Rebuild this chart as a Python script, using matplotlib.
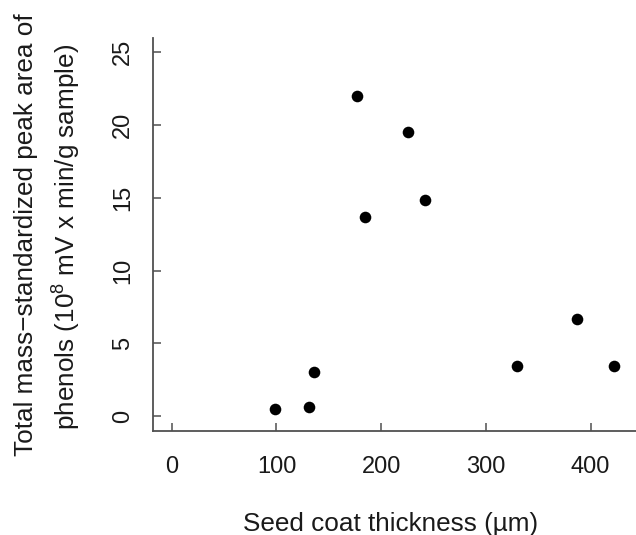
import matplotlib
matplotlib.use("Agg")
import matplotlib.pyplot as plt

plt.rcParams['font.family'] = ['Liberation Sans', 'DejaVu Sans']
plt.rcParams['mathtext.fontset'] = 'custom'
plt.rcParams['mathtext.rm'] = 'Liberation Sans'
plt.rcParams['mathtext.it'] = 'Liberation Sans:italic'

# Data
thickness = [98.6, 130.8, 136.1, 177.2, 184.2, 225.3, 241.8, 329.9, 387.2, 422.2]
peak_area = [0.46, 0.60, 3.02, 22.0, 13.7, 19.5, 14.85, 3.44, 6.65, 3.44]
x_ticks = [0, 100, 200, 300, 400]
y_ticks = [0, 5, 10, 15, 20, 25]

W, H = 636, 535
fig = plt.figure(figsize=(W / 100, H / 100), dpi=100)
# axes in pixel coordinates (extends beyond right edge, as in cropped reference)
left, right = 153.3, 651.0
top, bottom = 37.7, 430.6
ax = fig.add_axes([left / W, (H - bottom) / H, (right - left) / W, (bottom - top) / H])

ax.scatter(thickness, peak_area, s=70, color='black', zorder=3, linewidths=0)

ax.set_xlim(-17.6, 457.6)
ax.set_ylim(-1, 26)
ax.set_xticks(x_ticks)
ax.set_yticks(y_ticks)

spine_col = '#505050'
txt_col = '#1a1a1a'
for s in ['top', 'right']:
    ax.spines[s].set_visible(False)
for s in ['left', 'bottom']:
    ax.spines[s].set_color(spine_col)
    ax.spines[s].set_linewidth(1.3)

ax.tick_params(axis='both', direction='in', length=6, width=1.1, color=spine_col,
               labelsize=17, labelcolor=txt_col)
ax.tick_params(axis='x', pad=18)
ax.tick_params(axis='y', pad=14, labelrotation=90)
for lab in ax.get_yticklabels():
    lab.set_va('center')

fig.text(391 / W, 1 - 530.5 / H, 'Seed coat thickness (µm)', ha='center',
         va='baseline', fontsize=18.8, color=txt_col)

fig.text(33.5 / W, 1 - 235 / H, 'Total mass\u2212standardized peak area of', rotation=90,
         rotation_mode='anchor', ha='center', va='baseline', fontsize=18.8, color=txt_col)
fig.text(76 / W, 1 - 237 / H, 'phenols (10$^{8}$ mV x min/g sample)', rotation=90,
         rotation_mode='anchor', ha='center', va='baseline', fontsize=18.8, color=txt_col)

fig.savefig('out.png', dpi=100)
